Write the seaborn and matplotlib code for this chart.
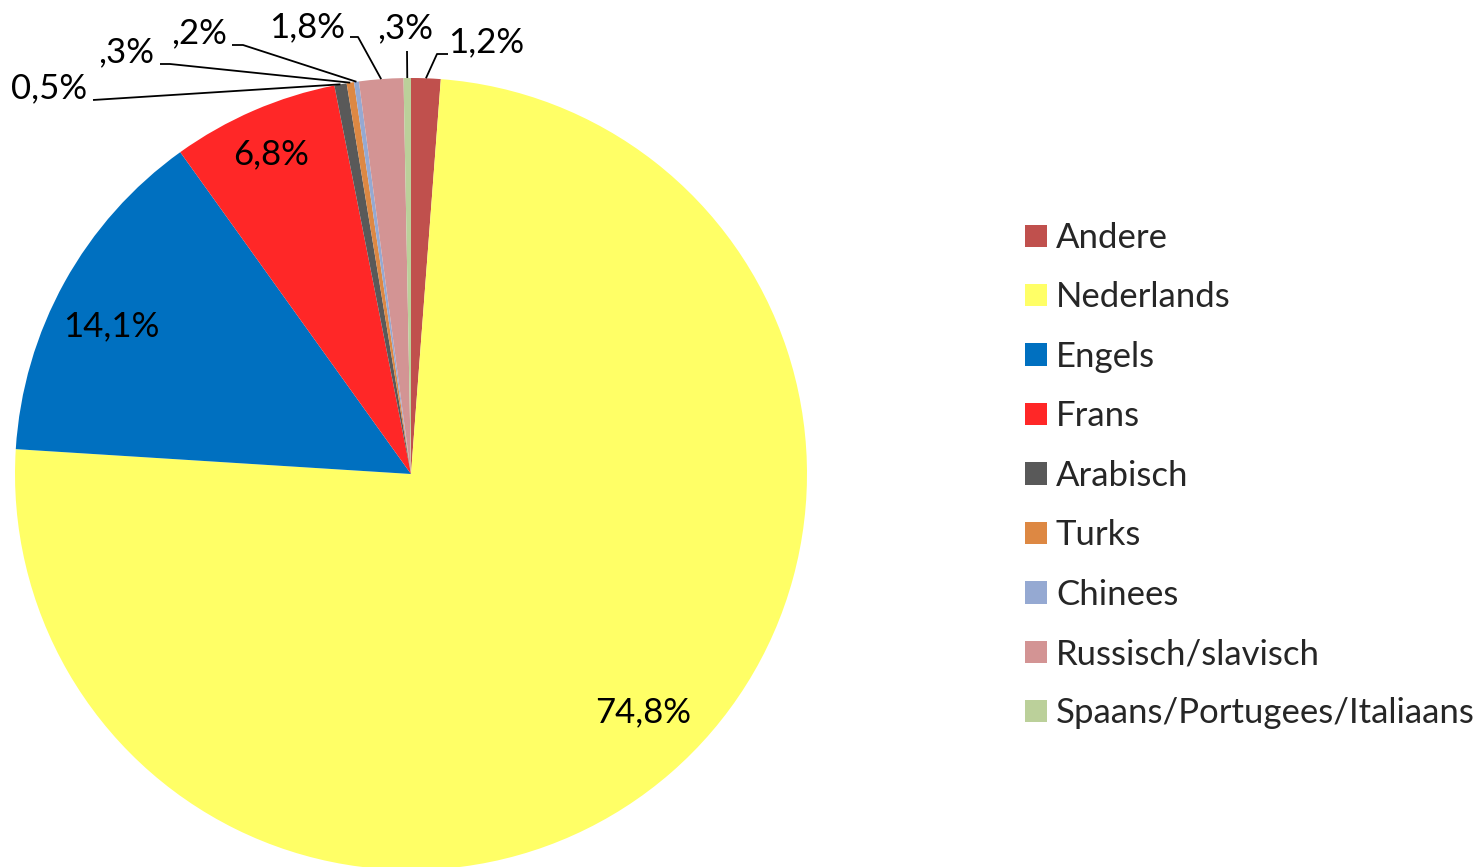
import numpy as np
import matplotlib
matplotlib.use("Agg")
import matplotlib.pyplot as plt
import seaborn as sns

sns.set_theme(style="white")
plt.rcParams['font.family'] = ['Lato', 'DejaVu Sans']

# Data (clockwise from 12 o'clock)
talen = ['Andere', 'Nederlands', 'Engels', 'Frans', 'Arabisch', 'Turks',
         'Chinees', 'Russisch/slavisch', 'Spaans/Portugees/Italiaans']
aandeel = [1.2, 74.8, 14.1, 6.8, 0.5, 0.3, 0.2, 1.8, 0.3]
labels = ['1,2%', '74,8%', '14,1%', '6,8%', '0,5%', ',3%', ',2%', '1,8%', ',3%']
kleuren = ['#C0504D', '#FFFF66', '#0070C0', '#FF2727', '#595959', '#DD8843',
           '#95A9D2', '#D39494', '#BBD09A']

# layout in pixel space
W, H = 1481, 867
cx, cy, R = 411, 474, 396
fs = 25

fig = plt.figure(figsize=(W / 100, H / 100), dpi=100)
ax = fig.add_axes([0, 0, 1, 1])

wedges, _ = ax.pie(aandeel, colors=kleuren, startangle=-90, counterclock=True,
                   center=(cx, cy), radius=R, frame=True,
                   wedgeprops=dict(linewidth=0))
ax.set_xlim(0, W)
ax.set_ylim(H, 0)   # y downwards, direction flipped above
ax.set_aspect('equal')
ax.axis('off')

# inside labels for the large slices
binnen = {1: (643, 712), 2: (111, 326), 3: (271, 154)}
for i, pos in binnen.items():
    ax.text(pos[0], pos[1], labels[i], ha='center', va='center',
            fontsize=fs, color='black')

# outside labels with leader lines: text centre, elbow points
buiten = {
    0: ((486, 42), [(448, 54), (437, 54)]),
    4: ((49, 88), [(93, 100)]),
    5: ((126, 52), [(160, 64), (170, 64)]),
    6: ((199, 33), [(232, 45), (243, 45)]),
    7: ((307, 27), [(350, 37), (358, 37)]),
    8: ((405, 28), [(407, 51)]),
}
for i, (pos, elbow) in buiten.items():
    w = wedges[i]
    mid = np.deg2rad((w.theta1 + w.theta2) / 2)
    ex, ey = cx + R * np.cos(mid), cy + R * np.sin(mid)
    pts = elbow + [(ex, ey)]
    ax.plot([p[0] for p in pts], [p[1] for p in pts], color='black', lw=1.3,
            solid_capstyle='butt')
    ax.text(pos[0], pos[1], labels[i], ha='center', va='center',
            fontsize=fs, color='black')

ax.legend(wedges, talen, loc='upper left', bbox_to_anchor=(1025 / W, 1 - 222 / H),
          bbox_transform=fig.transFigure, frameon=False, fontsize=fs,
          handlelength=0.62, handleheight=0.62, handletextpad=0.27,
          labelspacing=0.79, borderaxespad=0, borderpad=0)

fig.savefig('out.png', dpi=100)
